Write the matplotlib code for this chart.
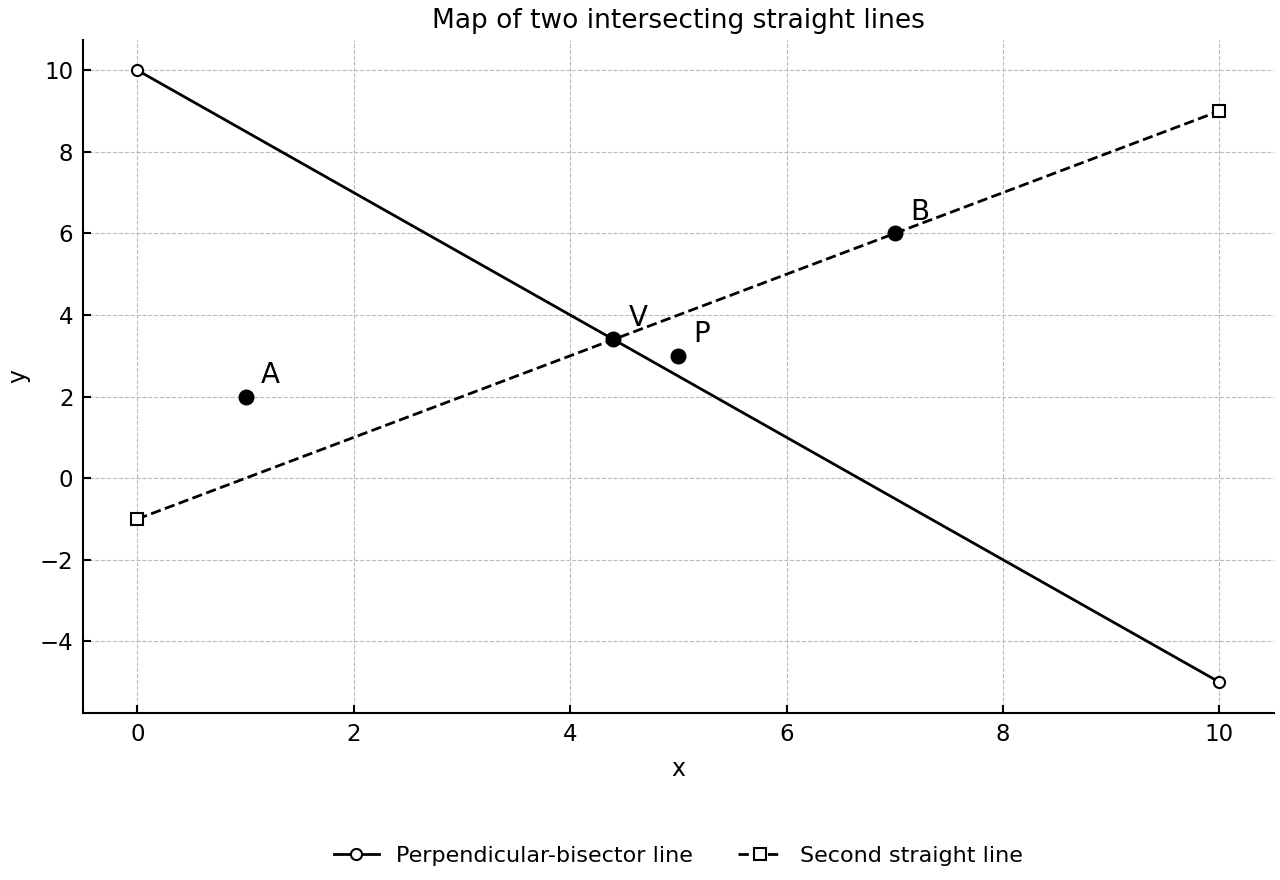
import matplotlib
matplotlib.use("Agg")
import numpy as np
from matplotlib import pyplot as plt

# line endpoints
line1_x = [0, 10]
line1_y = [10, -5]
line2_x = [0, 10]
line2_y = [-1, 9]

# labelled points
pt_names = ["A", "V", "P", "B"]
pt_x = [1, 4.4, 5, 7]
pt_y = [2, 3.4, 3, 6]

fig, ax = plt.subplots(figsize=(12.8, 8.8), dpi=100)

ax.plot(line1_x, line1_y, color="black", lw=2, marker="o", ms=8,
        mfc="white", mec="black", mew=1.5, label="Perpendicular-bisector line")
ax.plot(line2_x, line2_y, color="black", lw=2, ls="--", marker="s", ms=8,
        mfc="white", mec="black", mew=1.5, label="Second straight line")

ax.scatter(pt_x, pt_y, s=110, color="black", zorder=5)
for name, x, y in zip(pt_names, pt_x, pt_y):
    ax.annotate(name, (x, y), xytext=(11, 10), textcoords="offset points",
                fontsize=20)

ax.set_title("Map of two intersecting straight lines", fontsize=19, pad=8)
ax.set_xlabel("x", fontsize=17, labelpad=8)
ax.set_ylabel("y", fontsize=17, labelpad=7)
ax.set_xticks(np.arange(0, 11, 2))
ax.set_yticks(np.arange(-4, 11, 2))
ax.tick_params(direction="in", labelsize=16.5, length=6, width=1.5, pad=7)
ax.grid(True, ls="--", color="#bbbbbb", lw=0.8)
ax.spines["top"].set_visible(False)
ax.spines["right"].set_visible(False)
ax.spines["left"].set_linewidth(1.5)
ax.spines["bottom"].set_linewidth(1.5)

ax.legend(loc="upper center", bbox_to_anchor=(0.5, -0.168), ncol=2,
          frameon=False, fontsize=16)

plt.subplots_adjust(left=0.065, right=0.995, top=0.955, bottom=0.19)
plt.savefig("out.png")
